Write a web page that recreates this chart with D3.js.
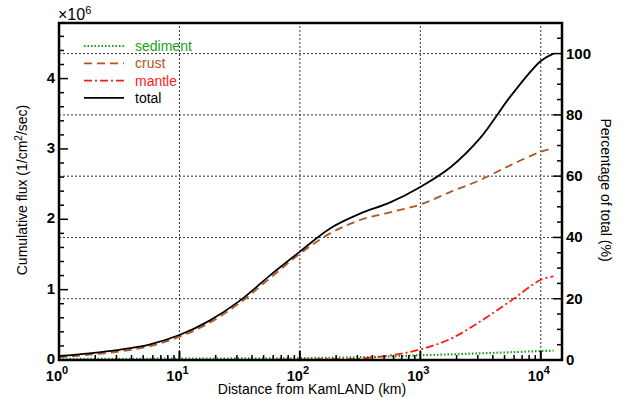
<!DOCTYPE html>
<html>
<head>
<meta charset="utf-8">
<script src="https://cdn.jsdelivr.net/npm/d3@7"></script>
<style>
body { margin: 0; background: #fff; }
#chart { width: 622px; height: 398px; }
text { font-family: "Liberation Sans", Arial, sans-serif; }
</style>
</head>
<body>
<div id="chart"></div>
<script>

// distance from KamLAND (km)
var distance = [1, 1.78, 3.16, 5.62, 10, 17.8, 31.6, 56.2, 100, 178, 316, 562, 1000, 1780, 3160, 5620, 10000, 12742];

// cumulative flux, x10^6 /cm2/sec
var sediment = [0.015, 0.016, 0.017, 0.018, 0.02, 0.021, 0.022, 0.024, 0.026, 0.032, 0.04, 0.05, 0.067, 0.08, 0.095, 0.11, 0.128, 0.132];
var crust    = [0.04, 0.075, 0.12, 0.195, 0.33, 0.53, 0.81, 1.16, 1.51, 1.80, 1.99, 2.10, 2.21, 2.39, 2.56, 2.77, 2.96, 3.01];
var mantle   = [0, 0, 0, 0, 0, 0, 0.001, 0.003, 0.006, 0.012, 0.02, 0.065, 0.15, 0.30, 0.55, 0.84, 1.14, 1.19];
var total    = [0.057, 0.095, 0.145, 0.22, 0.355, 0.56, 0.84, 1.20, 1.54, 1.87, 2.08, 2.24, 2.46, 2.74, 3.16, 3.75, 4.25, 4.355];

var seriesNames = ["sediment", "crust", "mantle", "total"];
var seriesColors = ["#17a017", "#b0561e", "#ff1a1a", "#000000"];
var seriesDash = ["1.5,2", "8,5", "8,3,2,3", null];

var leftTicks = [0, 1, 2, 3, 4];
var rightTicks = [0, 20, 40, 60, 80, 100];
var xTicks = [1, 10, 100, 1000, 10000];

var width = 622, height = 398;
var margin = {left: 59, right: 60, top: 23, bottom: 38};

var svg = d3.select("#chart")
    .append("svg")
    .attr("width", width)
    .attr("height", height);

var x = d3.scaleLog()
    .domain([1, 15000])
    .range([margin.left, width - margin.right]);

var y = d3.scaleLinear()
    .domain([0, 4.79])
    .range([height - margin.bottom, margin.top]);

var totalMax = total[total.length - 1];
var yPct = d3.scaleLinear()
    .domain([0, 4.79 / totalMax * 100])
    .range([height - margin.bottom, margin.top]);

var x0 = margin.left, x1 = width - margin.right;
var y0 = height - margin.bottom, y1 = margin.top;

// grid
svg.selectAll(".vgrid")
    .data(xTicks.slice(1))
    .enter()
    .append("line")
    .attr("x1", function(d){ return x(d); })
    .attr("x2", function(d){ return x(d); })
    .attr("y1", y0)
    .attr("y2", y1)
    .attr("stroke", "#333")
    .attr("stroke-width", 1)
    .attr("stroke-dasharray", "2,2");

svg.selectAll(".hgrid")
    .data(rightTicks.slice(1))
    .enter()
    .append("line")
    .attr("x1", x0)
    .attr("x2", x1)
    .attr("y1", function(d){ return yPct(d); })
    .attr("y2", function(d){ return yPct(d); })
    .attr("stroke", "#333")
    .attr("stroke-width", 1)
    .attr("stroke-dasharray", "2,2");

// lines
var allSeries = [sediment, crust, mantle, total];

var line = d3.line()
    .x(function(d, i){ return x(distance[i]); })
    .y(function(d){ return y(d); })
    .curve(d3.curveCatmullRom.alpha(0.5));

svg.selectAll(".series")
    .data(allSeries)
    .enter()
    .append("path")
    .attr("fill", "none")
    .attr("stroke", function(d, i){ return seriesColors[i]; })
    .attr("stroke-width", function(d, i){ return i == 0 ? 2.2 : 1.8; })
    .attr("stroke-dasharray", function(d, i){ return seriesDash[i]; })
    .attr("d", line);

// ticks
var minorX = [];
for (var e = 0; e < 5; e++) {
    for (var m = 2; m <= 9; m++) {
        var v = m * Math.pow(10, e);
        if (v < 15000) minorX.push(v);
    }
}

var ticks = svg.append("g").attr("stroke", "#000");

ticks.selectAll(".xmaj")
    .data(xTicks)
    .enter()
    .append("line")
    .attr("x1", function(d){ return x(d); })
    .attr("x2", function(d){ return x(d); })
    .attr("y1", y0)
    .attr("y2", y0 - 9)
    .attr("stroke-width", 2);

ticks.selectAll(".xmin")
    .data(minorX)
    .enter()
    .append("line")
    .attr("x1", function(d){ return x(d); })
    .attr("x2", function(d){ return x(d); })
    .attr("y1", y0)
    .attr("y2", y0 - 5)
    .attr("stroke-width", 1.5);

var leftMinor = d3.range(0, 4.8, 0.2);
ticks.selectAll(".ymin")
    .data(leftMinor)
    .enter()
    .append("line")
    .attr("x1", x0)
    .attr("x2", function(d){ return Math.abs(d - Math.round(d)) < 0.01 ? x0 + 9 : x0 + 5; })
    .attr("y1", function(d){ return y(d); })
    .attr("y2", function(d){ return y(d); })
    .attr("stroke-width", 1.5);

var rightMinor = d3.range(0, 110, 5);
ticks.selectAll(".rmin")
    .data(rightMinor)
    .enter()
    .append("line")
    .attr("x1", x1)
    .attr("x2", function(d){ return d % 20 == 0 ? x1 - 9 : x1 - 5; })
    .attr("y1", function(d){ return yPct(d); })
    .attr("y2", function(d){ return yPct(d); })
    .attr("stroke-width", 1.5);

// frame
svg.append("rect")
    .attr("x", x0)
    .attr("y", y1)
    .attr("width", x1 - x0)
    .attr("height", y0 - y1)
    .attr("fill", "none")
    .attr("stroke", "#000")
    .attr("stroke-width", 2.5);

// tick labels
svg.selectAll(".ylab")
    .data(leftTicks)
    .enter()
    .append("text")
    .attr("x", x0 - 4)
    .attr("y", function(d){ return y(d) + 4; })
    .attr("text-anchor", "end")
    .attr("font-size", "15px")
    .attr("font-weight", "bold")
    .text(function(d){ return d; });

svg.selectAll(".rlab")
    .data(rightTicks)
    .enter()
    .append("text")
    .attr("x", x1 + 4)
    .attr("y", function(d){ return yPct(d) + 5; })
    .attr("font-size", "15px")
    .attr("font-weight", "bold")
    .text(function(d){ return d; });

var xl = svg.selectAll(".xlab")
    .data(xTicks)
    .enter()
    .append("text")
    .attr("x", function(d){ return x(d) - 2; })
    .attr("y", y0 + 21)
    .attr("text-anchor", "middle")
    .attr("font-size", "14.5px")
    .attr("font-weight", "bold");
xl.append("tspan").text("10");
xl.append("tspan")
    .attr("dy", -7)
    .attr("font-size", "11px")
    .text(function(d){ return Math.round(Math.log10(d)); });

// multiplier
var mult = svg.append("text")
    .attr("x", x0 - 1)
    .attr("y", 20)
    .attr("font-size", "16px");
mult.append("tspan").text("\u00d710");
mult.append("tspan").attr("dy", -6).attr("font-size", "11px").text("6");

// titles
svg.append("text")
    .attr("x", 312)
    .attr("y", 394)
    .attr("text-anchor", "middle")
    .attr("font-size", "14px")
    .text("Distance from KamLAND (km)");

var lt = svg.append("text")
    .attr("transform", "translate(27,190) rotate(-90)")
    .attr("text-anchor", "middle")
    .attr("font-size", "14px");
lt.append("tspan").text("Cumulative flux (1/cm");
lt.append("tspan").attr("dy", -5).attr("font-size", "10px").text("2");
lt.append("tspan").attr("dy", 5).text("/sec)");

svg.append("text")
    .attr("transform", "translate(601,190) rotate(90)")
    .attr("text-anchor", "middle")
    .attr("font-size", "14px")
    .text("Percentage of total (%)");

// legend
var legend = svg.selectAll(".legend")
    .data(seriesNames)
    .enter()
    .append("g")
    .attr("transform", function(d, i){ return "translate(84," + (46 + i * 17.3) + ")"; });

legend.append("line")
    .attr("x1", 0)
    .attr("x2", 40)
    .attr("stroke", function(d, i){ return seriesColors[i]; })
    .attr("stroke-width", function(d, i){ return i == 0 ? 2.2 : 1.8; })
    .attr("stroke-dasharray", function(d, i){ return seriesDash[i]; });

legend.append("text")
    .attr("x", 51)
    .attr("y", 5)
    .attr("font-size", "14px")
    .attr("fill", function(d, i){ return seriesColors[i]; })
    .text(function(d){ return d; });

</script>
</body>
</html>
